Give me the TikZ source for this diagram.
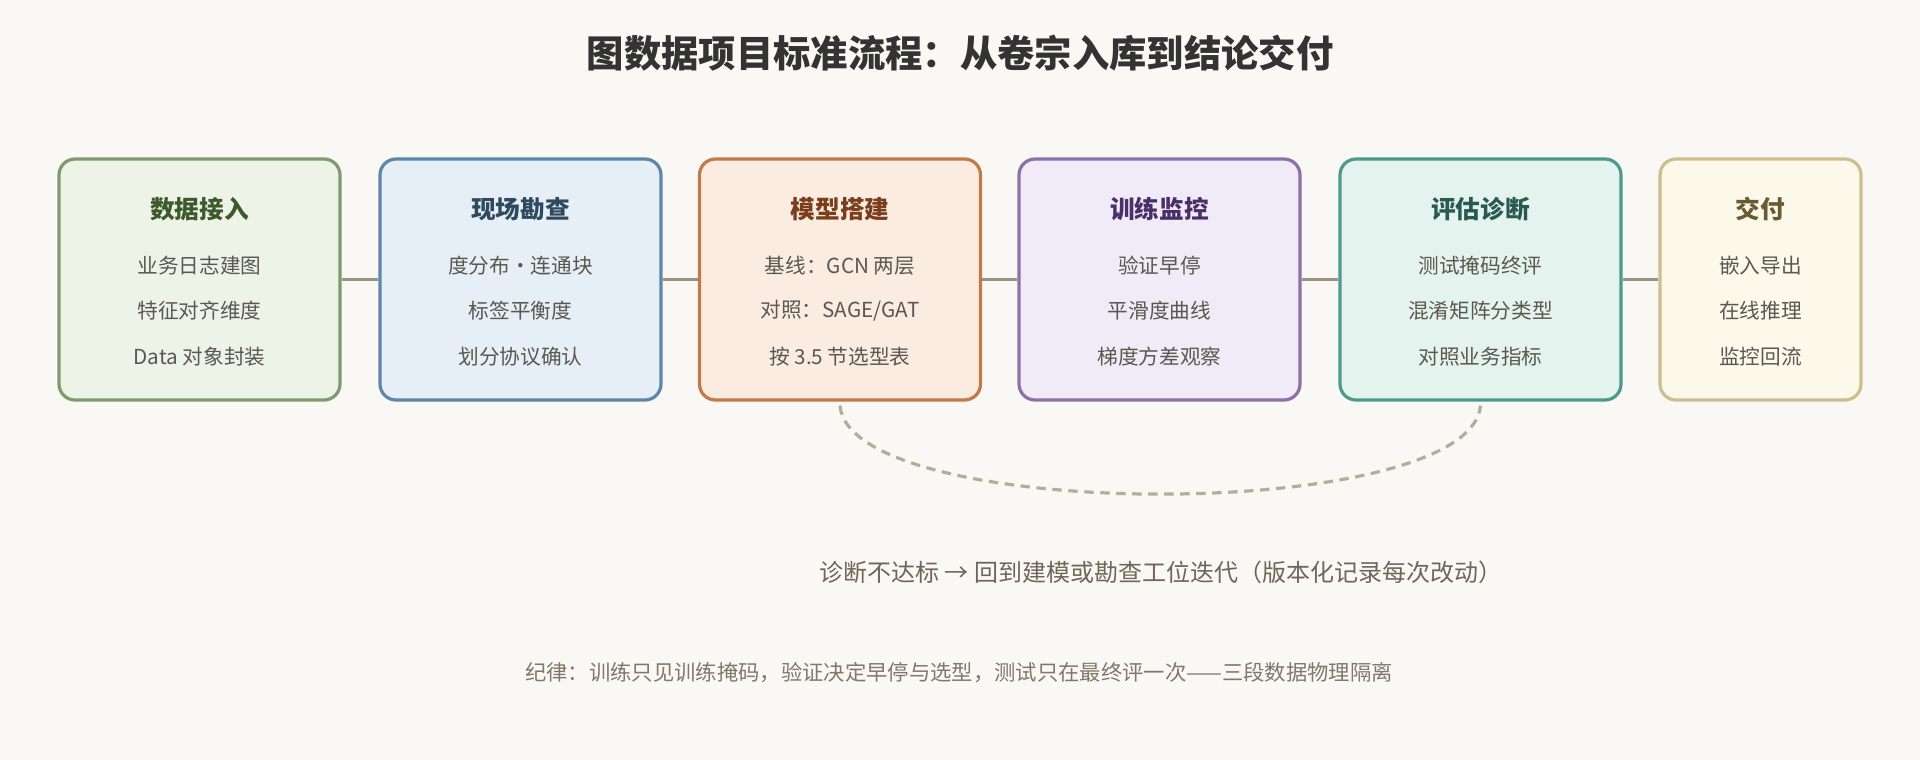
\documentclass[tikz,border=0pt]{standalone}
\usepackage{fontspec}
\setmainfont{Noto Sans CJK SC}
\usetikzlibrary{calc}
\usetikzlibrary{positioning}

\definecolor{bgcol}{HTML}{F9F8F4}
\definecolor{linkcol}{HTML}{9A9180}
\definecolor{loopcol}{HTML}{B0AF98}
\definecolor{bodycol}{HTML}{5A5850}
\definecolor{notecol}{HTML}{6E6658}
\definecolor{rulecol}{HTML}{80786A}
\definecolor{drawA}{HTML}{7D9B6C}\definecolor{fillA}{HTML}{EEF3E8}\definecolor{headA}{HTML}{3D5A2C}
\definecolor{drawB}{HTML}{5E86A8}\definecolor{fillB}{HTML}{E6EEF6}\definecolor{headB}{HTML}{2E4A5E}
\definecolor{drawC}{HTML}{C27A48}\definecolor{fillC}{HTML}{FBECE1}\definecolor{headC}{HTML}{7A3E1C}
\definecolor{drawD}{HTML}{8C70A8}\definecolor{fillD}{HTML}{F1EBF7}\definecolor{headD}{HTML}{4A3068}
\definecolor{drawE}{HTML}{4C9A8C}\definecolor{fillE}{HTML}{E5F3EF}\definecolor{headE}{HTML}{285A50}
\definecolor{drawF}{HTML}{CDBE8E}\definecolor{fillF}{HTML}{FCF9EB}\definecolor{headF}{HTML}{6A5A30}

\begin{document}
\begin{tikzpicture}[
  x=0.75pt, y=-0.75pt,
  box/.style = {draw=#1, line width=2.4pt, rounded corners=12pt, minimum height=241*0.75pt, inner sep=0pt},
  head/.style = {font=\fontsize{18.5}{22}\selectfont\bfseries, text=#1},
  item/.style = {font=\fontsize{15.5}{18}\selectfont, text=bodycol, align=center},
  link/.style = {draw=linkcol, line width=2.4pt}
  ]
	\fill[bgcol] (0,0) rectangle (1920,760);
	\useasboundingbox (0,0) rectangle (1920,760);

	\node[font=\fontsize{28}{32}\selectfont\bfseries, text=black!80] (title) at (960,53) {图数据项目标准流程：从卷宗入库到结论交付};

	% stages
	\node[box=drawA, fill=fillA, minimum width=281*0.75pt] (b1) at (199.5,279.5) {};
	\node[box=drawB, fill=fillB, minimum width=281*0.75pt] (b2) at (520.5,279.5) {};
	\node[box=drawC, fill=fillC, minimum width=281*0.75pt] (b3) at (840,279.5) {};
	\node[box=drawD, fill=fillD, minimum width=281*0.75pt] (b4) at (1159.5,279.5) {};
	\node[box=drawE, fill=fillE, minimum width=281*0.75pt] (b5) at (1480.5,279.5) {};
	\node[box=drawF, fill=fillF, minimum width=201*0.75pt] (b6) at (1760.5,279.5) {};

	\node[head=headA] at ($(b1.north)+(0,52)$) {数据接入};
	\node[head=headB] at ($(b2.north)+(0,52)$) {现场勘查};
	\node[head=headC] at ($(b3.north)+(0,52)$) {模型搭建};
	\node[head=headD] at ($(b4.north)+(0,52)$) {训练监控};
	\node[head=headE] at ($(b5.north)+(0,52)$) {评估诊断};
	\node[head=headF] at ($(b6.north)+(0,52)$) {交付};

	\node[item] at ($(b1.north)+(0,108)$) {业务日志建图};
	\node[item] at ($(b1.north)+(0,153)$) {特征对齐维度};
	\node[item] at ($(b1.north)+(0,199)$) {Data 对象封装};
	\node[item] at ($(b2.north)+(0,108)$) {度分布·连通块};
	\node[item] at ($(b2.north)+(0,153)$) {标签平衡度};
	\node[item] at ($(b2.north)+(0,199)$) {划分协议确认};
	\node[item] at ($(b3.north)+(0,108)$) {基线：GCN 两层};
	\node[item] at ($(b3.north)+(0,153)$) {对照：SAGE/GAT};
	\node[item] at ($(b3.north)+(0,199)$) {按 3.5 节选型表};
	\node[item] at ($(b4.north)+(0,108)$) {验证早停};
	\node[item] at ($(b4.north)+(0,153)$) {平滑度曲线};
	\node[item] at ($(b4.north)+(0,199)$) {梯度方差观察};
	\node[item] at ($(b5.north)+(0,108)$) {测试掩码终评};
	\node[item] at ($(b5.north)+(0,153)$) {混淆矩阵分类型};
	\node[item] at ($(b5.north)+(0,199)$) {对照业务指标};
	\node[item] at ($(b6.north)+(0,108)$) {嵌入导出};
	\node[item] at ($(b6.north)+(0,153)$) {在线推理};
	\node[item] at ($(b6.north)+(0,199)$) {监控回流};

	\foreach \a/\b in {b1/b2,b2/b3,b3/b4,b4/b5,b5/b6}
		\draw[link] (\a.east) -- (\b.west);

	% feedback loop
	\coordinate (loopa) at ($(b3.south)+(0,4)$);
	\coordinate (loopb) at ($(b5.south)+(0,4)$);
	\draw[loopcol, line width=2.4pt, dash pattern=on 7pt off 5pt]
		(loopa) .. controls ($(loopa)+(10,118)$) and ($(loopb)+(-10,118)$) .. (loopb);

	\node[font=\fontsize{18}{21}\selectfont, text=notecol] (note) at (1161,572) {诊断不达标 → 回到建模或勘查工位迭代（版本化记录每次改动）};
	\node[font=\fontsize{16}{19}\selectfont, text=rulecol] (rule) at (959,673) {纪律：训练只见训练掩码，验证决定早停与选型，测试只在最终评一次——三段数据物理隔离};
\end{tikzpicture}
\end{document}
